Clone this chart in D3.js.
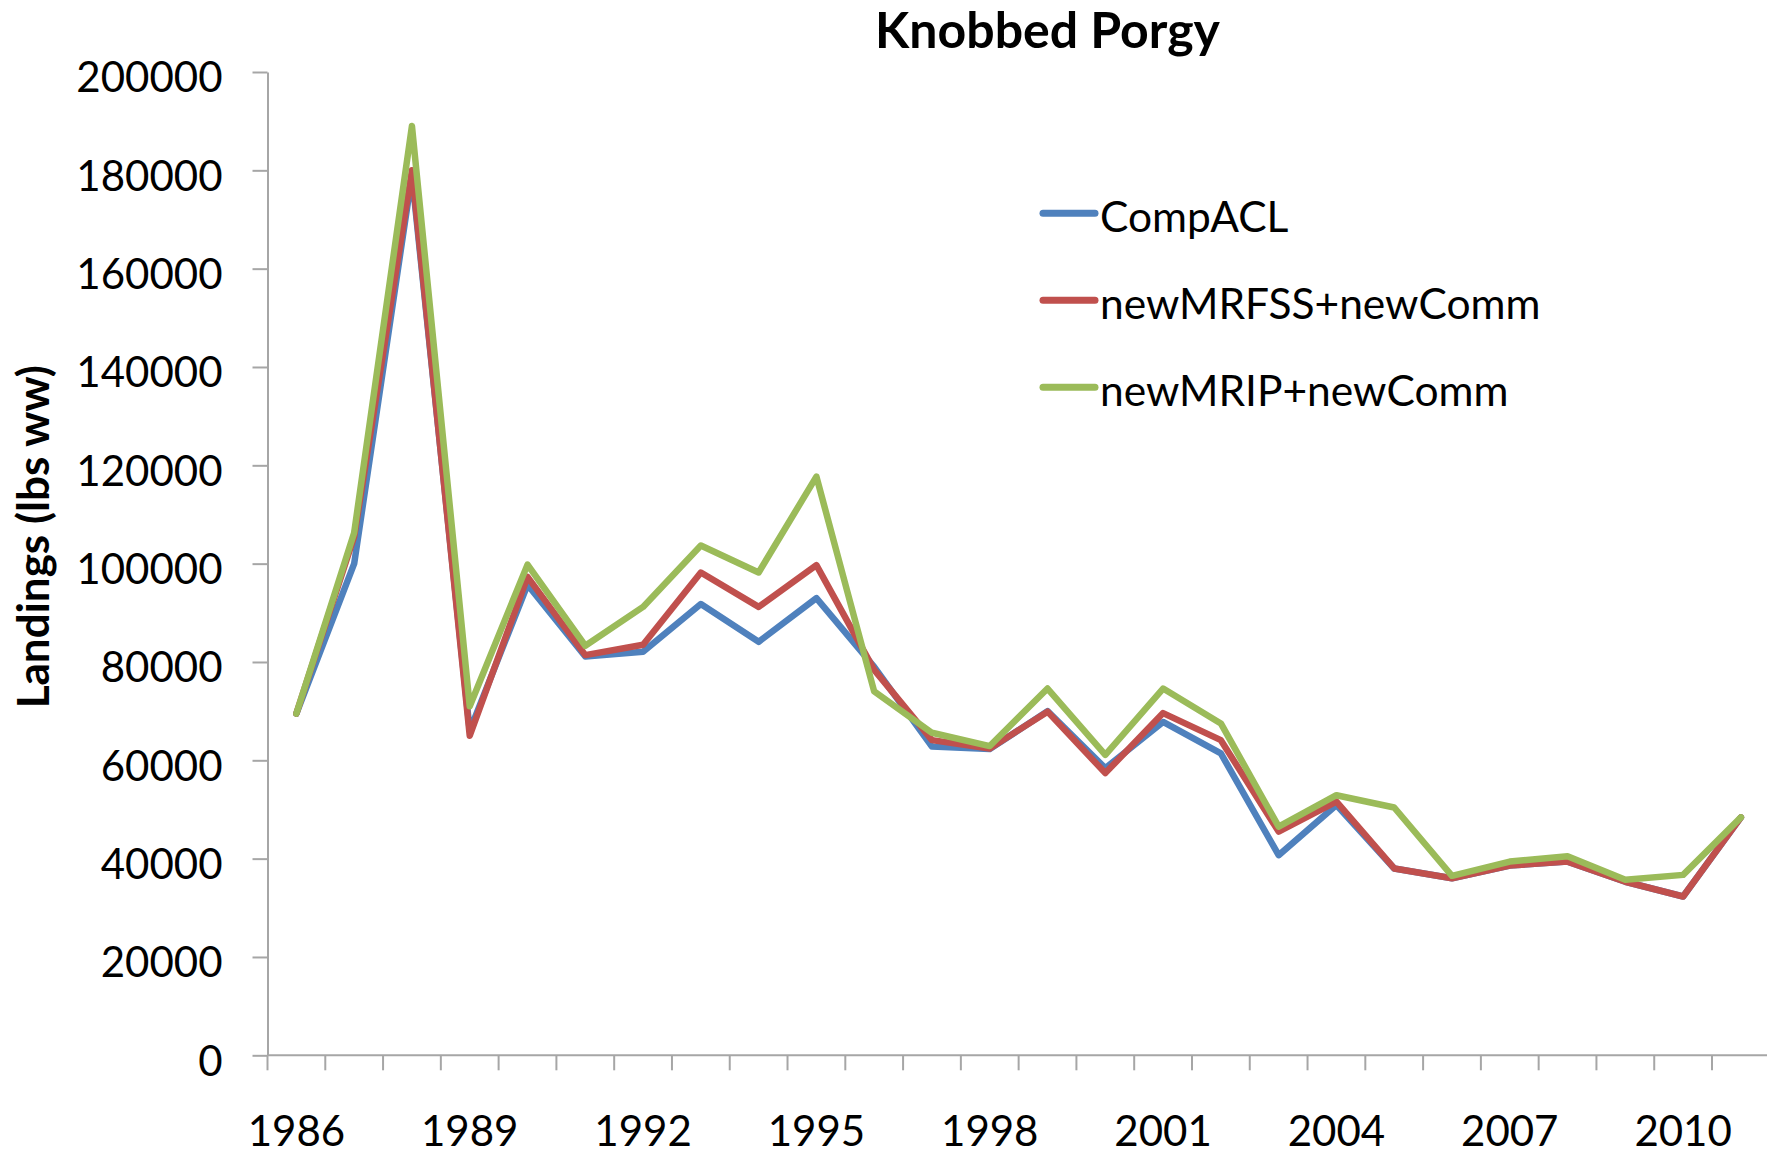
<!DOCTYPE html>
<html>
<head>
<meta charset="utf-8">
<script src="https://cdn.jsdelivr.net/npm/d3@7"></script>
<style>
  body { margin: 0; background: white; }
  text { font-family: Lato, "Noto Sans", sans-serif; fill: black; }
</style>
</head>
<body>
<svg id="chart" width="1767" height="1153"></svg>
<script>
var years = d3.range(1986, 2012);
var labelYears = d3.range(1986, 2012, 3);
var yTicks = d3.range(0, 200001, 20000);

var seriesNames = ['CompACL', 'newMRFSS+newComm', 'newMRIP+newComm'];
var seriesColors = ['#4F81BD', '#C0504D', '#9BBB59'];

var compACL = [69500, 100000, 179000, 66000, 95700, 81100, 82100, 91800, 84100, 93000,
  79000, 62800, 62300, 70000, 58400, 67800, 61400, 40700, 50900, 38000,
  36000, 38600, 39400, 35300, 32300, 48400];
var newMRFSS = [69500, 105500, 180000, 65000, 97300, 81400, 83500, 98200, 91200, 99700,
  78400, 64100, 62400, 69900, 57400, 69600, 64100, 45500, 51600, 38000,
  36000, 38600, 39400, 35300, 32300, 48400];
var newMRIP = [69500, 106300, 189000, 71000, 99800, 83300, 91200, 103700, 98200, 117700,
  74000, 65600, 62900, 74600, 61100, 74600, 67500, 46500, 52900, 50400,
  36500, 39400, 40500, 35700, 36700, 48400];
var seriesValues = [compACL, newMRFSS, newMRIP];

var svg = d3.select('#chart');
var plotLeft = 267.5, plotTop = 72, plotBottom = 1055.3, step = 57.78;

var x = d3.scaleBand().domain(years).range([plotLeft, plotLeft + years.length*step]).padding(0);
var y = d3.scaleLinear().domain([0, 200000]).range([plotBottom, plotTop]);

var axisColor = '#a6a6a6';

/* Y axis */
var yAxis = svg.append('g').attr('transform', 'translate(' + plotLeft + ',0)')
  .call(d3.axisLeft(y).tickValues(yTicks).tickFormat(d3.format('d')).tickSize(15).tickSizeOuter(0).tickPadding(30));
yAxis.select('.domain').attr('stroke', axisColor).attr('stroke-width', 2);
yAxis.selectAll('.tick line').attr('stroke', axisColor).attr('stroke-width', 2);
yAxis.selectAll('.tick text').attr('dy', '0.47em').style('font-size', '42px').style('font-family', 'Lato, sans-serif').attr('fill', 'black');

/* X axis: tick marks between categories, labels every 3 years */
svg.append('line')
  .attr('x1', plotLeft).attr('x2', plotLeft + years.length*step)
  .attr('y1', plotBottom).attr('y2', plotBottom)
  .attr('stroke', axisColor).attr('stroke-width', 2);
svg.append('g').selectAll('line').data(years.concat([null])).join('line')
  .attr('x1', d => d === null ? x.range()[1] : x(d))
  .attr('x2', d => d === null ? x.range()[1] : x(d))
  .attr('y1', plotBottom).attr('y2', plotBottom + 15)
  .attr('stroke', axisColor).attr('stroke-width', 2);
svg.append('g').selectAll('text').data(labelYears).join('text')
  .attr('x', d => x(d) + x.bandwidth()/2)
  .attr('y', 1145.5)
  .attr('text-anchor', 'middle')
  .style('font-size', '42px')
  .text(d => d);

/* Lines */
var line = d3.line()
  .x((d, i) => x(years[i]) + x.bandwidth()/2)
  .y(d => y(d))
  .curve(d3.curveLinear);

seriesValues.forEach((vals, k) => {
  svg.append('path')
    .attr('d', line(vals))
    .attr('fill', 'none')
    .attr('stroke', seriesColors[k])
    .attr('stroke-width', 6.5)
    .attr('stroke-linejoin', 'round')
    .attr('stroke-linecap', 'round');
});

/* Legend */
var legend = svg.append('g');
seriesNames.forEach((name, k) => {
  var ly = 213.3 + k*87;
  legend.append('line')
    .attr('x1', 1043).attr('x2', 1095).attr('y1', ly).attr('y2', ly)
    .attr('stroke', seriesColors[k]).attr('stroke-width', 7).attr('stroke-linecap', 'round');
  legend.append('text')
    .attr('x', 1100).attr('y', ly + 18.5)
    .style('font-size', '42.5px')
    .text(name);
});

/* Title */
svg.append('text')
  .attr('x', 1047.5).attr('y', 48.3)
  .attr('text-anchor', 'middle')
  .style('font-size', '50px').style('font-weight', 'bold')
  .text('Knobbed Porgy');

/* Y axis title */
svg.append('text')
  .attr('transform', 'translate(49,536.7) rotate(-90)')
  .attr('text-anchor', 'middle')
  .style('font-size', '44px').style('font-weight', 'bold')
  .text('Landings (lbs ww)');
</script>
</body>
</html>
